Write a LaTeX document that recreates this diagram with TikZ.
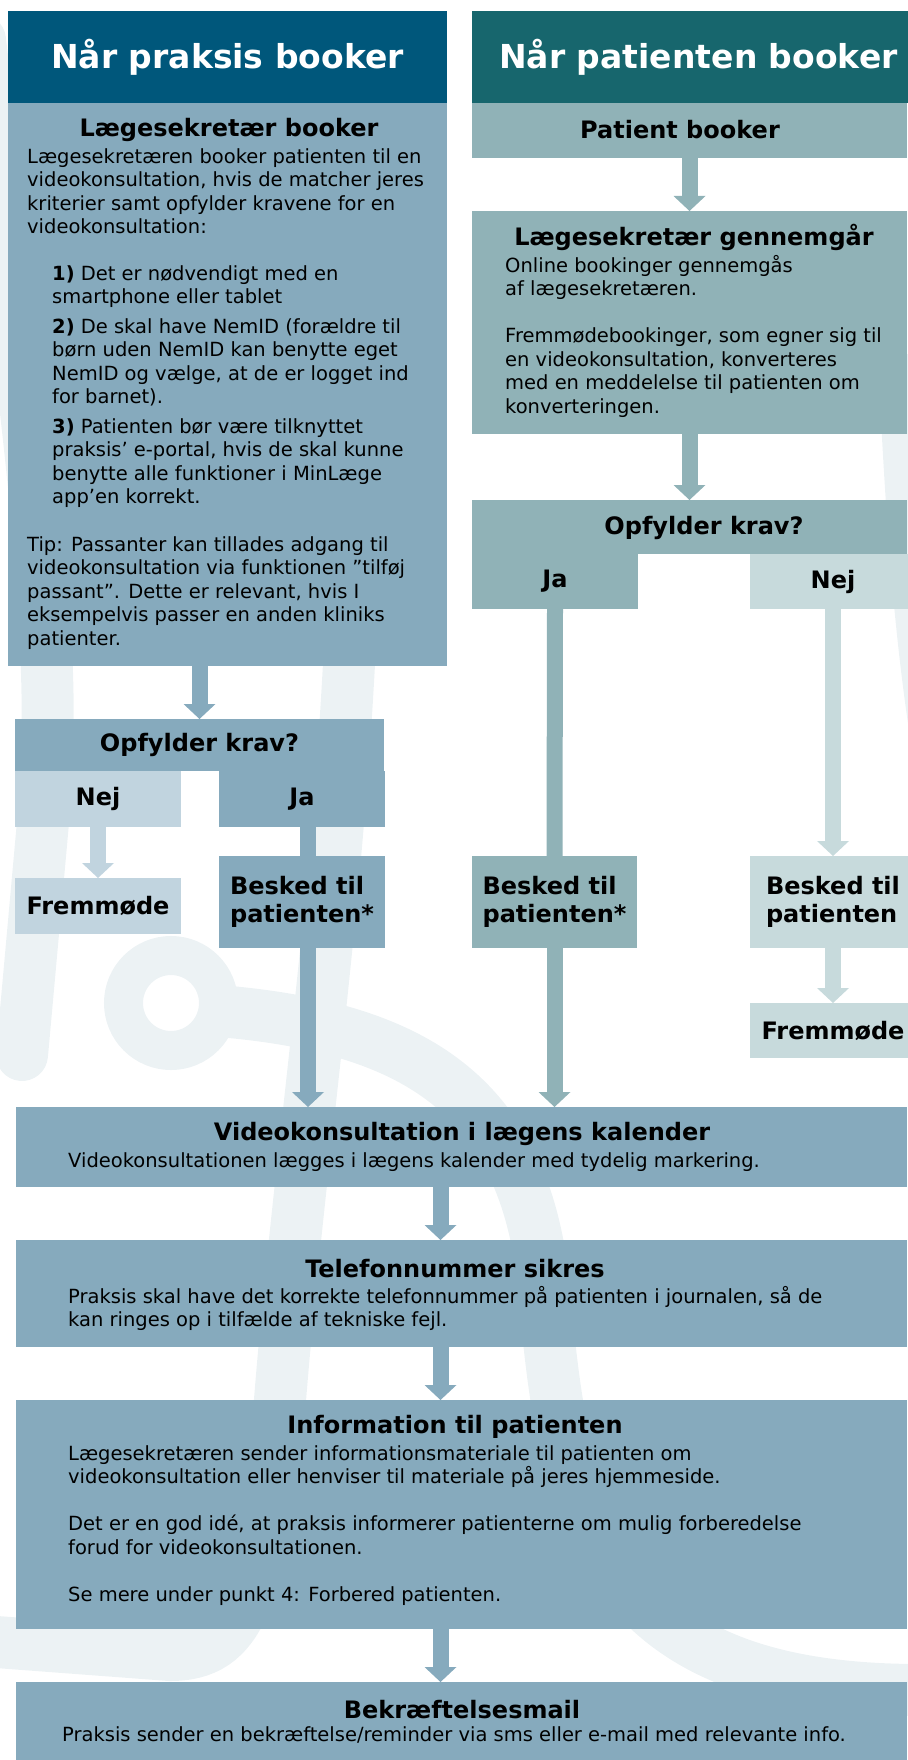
\documentclass[tikz,border=0pt]{standalone}
\usepackage{fontspec}
\setmainfont{DejaVu Sans}
\usetikzlibrary{arrows.meta}

\definecolor{cHdrL}{HTML}{00577B}
\definecolor{cHdrR}{HTML}{17666D}
\definecolor{cBoxL}{HTML}{86AABD}
\definecolor{cBoxR}{HTML}{90B2B7}
\definecolor{cNejL}{HTML}{C1D4DF}
\definecolor{cNejR}{HTML}{C7DADC}
\definecolor{cMark}{HTML}{ECF2F4}

\tikzset{
  blk/.style={anchor=north west, inner sep=0pt, outer sep=0pt},
  hdr/.style={blk, text=white, font=\bfseries\fontsize{33}{38}\selectfont},
  tbox/.style={blk, align=left, font=\bfseries\fontsize{24}{28.5}\selectfont},
  ttl/.style={inner sep=0pt, font=\bfseries\fontsize{24}{28.5}\selectfont},
  txt/.style={anchor=north west, inner sep=0pt, align=left, font=\fontsize{19.5}{23.5}\selectfont},
  fat/.style={line width=16pt, -{Triangle[width=32pt,length=15pt,line width=0pt]}},
  bar/.style={line width=16pt},
  wm/.style={draw=cMark, line width=52pt, line cap=round},
}

\begin{document}
\begin{tikzpicture}[x=1pt, y=-1pt]
  \useasboundingbox (0,0) rectangle (907,1760);

  % stethoscope in the background
  \draw[wm] (-20,40) .. controls (10,300) and (60,600) .. (45,800) -- (22,1055);
  \draw[wm] (905,380) .. controls (912,520) and (920,640) .. (940,760);
  \draw[wm] (352,600) .. controls (340,900) and (300,1150) .. (280,1400)
    .. controls (262,1600) and (240,1655) .. (170,1655) -- (-30,1640);
  \draw[cMark, line width=39pt] (171,1003) circle (47.5);
  \draw[wm] (230,1012) .. controls (420,1030) and (530,1100) .. (545,1300)
    .. controls (565,1520) and (600,1690) .. (920,1690);

  % left column: praksis booker
  \node[hdr, fill=cHdrL, minimum width=439, minimum height=92] (hdrL) at (8,11) {Når praksis booker};
  \node[blk, fill=cBoxL, minimum width=439, minimum height=563] (lbox) at (8,103) {};
  \node[ttl] (lboxT) at (229,130) {Lægesekretær booker};
  \node[txt] (lboxA) at (27,148) {Lægesekretæren booker patienten til en\\
    videokonsultation, hvis de matcher jeres\\
    kriterier samt opfylder kravene for en\\
    videokonsultation:};
  \node[txt] (lboxB) at (52,265) {\textbf{1)} Det er nødvendigt med en\\
    smartphone eller tablet\\[6pt]
    \textbf{2)} De skal have NemID (forældre til\\
    børn uden NemID kan benytte eget\\
    NemID og vælge, at de er logget ind\\
    for barnet).\\[6pt]
    \textbf{3)} Patienten bør være tilknyttet\\
    praksis’ e-portal, hvis de skal kunne\\
    benytte alle funktioner i MinLæge\\
    app’en korrekt.};
  \node[txt] (lboxC) at (27,536) {Tip: Passanter kan tillades adgang til\\
    videokonsultation via funktionen ”tilføj\\
    passant”. Dette er relevant, hvis I\\
    eksempelvis passer en anden kliniks\\
    patienter.};

  \node[tbox, fill=cBoxL, minimum width=369, minimum height=52] (opfL) at (15,719) {Opfylder krav?};
  \node[tbox, fill=cNejL, minimum width=166, minimum height=56] (nejL) at (15,771) {Nej};
  \node[tbox, fill=cBoxL, minimum width=166, minimum height=56] (jaL) at (219,771) {Ja};
  \node[tbox, fill=cNejL, minimum width=166, minimum height=56] (fremL) at (15,878) {Fremmøde};
  \node[tbox, fill=cBoxL, minimum width=166, minimum height=92] (beskL) at (219,856) {Besked til\\patienten*};

  % right column: patienten booker
  \node[hdr, fill=cHdrR, minimum width=453, minimum height=92] (hdrR) at (472,11) {Når patienten booker};
  \node[blk, fill=cBoxR, minimum width=435, minimum height=55] (pat) at (472,103) {};
  \node[ttl] (patT) at (680,130) {Patient booker};
  \node[blk, fill=cBoxR, minimum width=435, minimum height=223] (gen) at (472,211) {};
  \node[ttl] (genT) at (694,237) {Lægesekretær gennemgår};
  \node[txt] (genB) at (505,255) {Online bookinger gennemgås\\
    af lægesekretæren.\\[23.5pt]
    Fremmødebookinger, som egner sig til\\
    en videokonsultation, konverteres\\
    med en meddelelse til patienten om\\
    konverteringen.};
  \node[blk, fill=cBoxR, minimum width=435, minimum height=54] (opfR) at (472,500) {};
  \node[ttl] (opfRT) at (704,528) {Opfylder krav?};
  \node[tbox, fill=cBoxR, minimum width=166, minimum height=55] (jaR) at (472,554) {Ja};
  \node[tbox, fill=cNejR, minimum width=166, minimum height=55] (nejR) at (750,554) {Nej};
  \node[tbox, fill=cBoxR, minimum width=165, minimum height=92] (beskM) at (472,856) {Besked til\\patienten*};
  \node[tbox, fill=cNejR, minimum width=166, minimum height=92] (beskR) at (750,856) {Besked til\\patienten};
  \node[tbox, fill=cNejR, minimum width=166, minimum height=55] (fremR) at (750,1003) {Fremmøde};

  % shared steps
  \node[blk, fill=cBoxL, minimum width=891, minimum height=80] (video) at (16,1107) {};
  \node[ttl] (videoT) at (462,1134) {Videokonsultation i lægens kalender};
  \node[txt] (videoB) at (68,1152) {Videokonsultationen lægges i lægens kalender med tydelig markering.};
  \node[blk, fill=cBoxL, minimum width=891, minimum height=107] (tel) at (16,1240) {};
  \node[ttl] (telT) at (455,1269) {Telefonnummer sikres};
  \node[txt] (telB) at (68,1286) {Praksis skal have det korrekte telefonnummer på patienten i journalen, så de\\
    kan ringes op i tilfælde af tekniske fejl.};
  \node[blk, fill=cBoxL, minimum width=891, minimum height=229] (info) at (16,1400) {};
  \node[ttl] (infoT) at (455,1427) {Information til patienten};
  \node[txt] (infoB) at (68,1445) {Lægesekretæren sender informationsmateriale til patienten om\\
    videokonsultation eller henviser til materiale på jeres hjemmeside.\\[23.5pt]
    Det er en god idé, at praksis informerer patienterne om mulig forberedelse\\
    forud for videokonsultationen.\\[23.5pt]
    Se mere under punkt 4: Forbered patienten.};
  \node[blk, fill=cBoxL, minimum width=891, minimum height=90] (bekr) at (16,1682) {};
  \node[ttl] (bekrT) at (462,1710) {Bekræftelsesmail};
  \node[txt] (bekrB) at (62,1726) {Praksis sender en bekræftelse/reminder via sms eller e-mail med relevante info.};

  % arrows
  \draw[fat, cBoxL] (opfL.north |- lbox.south) -- (opfL.north);
  \draw[fat, cNejL] (nejL.south) -- (fremL.north);
  \draw[bar, cBoxL] ([xshift=6]jaL.south) -- ([xshift=6]beskL.north);
  \draw[fat, cBoxL] ([xshift=6]beskL.south) -- ([xshift=6]beskL.south |- video.north);
  \draw[fat, cBoxR] (pat.south) -- (gen.north);
  \draw[fat, cBoxR] (gen.south) -- (opfR.north);
  \draw[bar, cBoxR] (jaR.south) -- (beskM.north);
  \draw[fat, cBoxR] (beskM.south) -- (beskM.south |- video.north);
  \draw[fat, cNejR] (nejR.south) -- (beskR.north);
  \draw[fat, cNejR] (beskR.south) -- (fremR.north);
  \draw[fat, cBoxL] ([xshift=-21]video.south) -- ([xshift=-21]tel.north);
  \draw[fat, cBoxL] ([xshift=-21]tel.south) -- ([xshift=-21]info.north);
  \draw[fat, cBoxL] ([xshift=-21]info.south) -- ([xshift=-21]bekr.north);
\end{tikzpicture}
\end{document}
